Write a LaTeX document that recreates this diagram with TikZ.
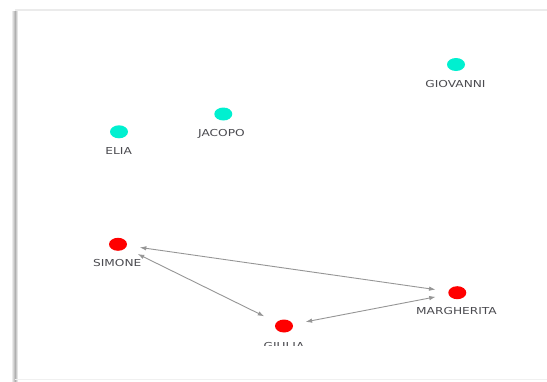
\documentclass[tikz,border=0pt]{standalone}
\usepackage{fontspec}
\setmainfont{DejaVu Sans}
\usetikzlibrary{arrows.meta,shapes.geometric}
\definecolor{dotcyan}{RGB}{0,240,208}
\definecolor{dotred}{RGB}{255,0,0}
\definecolor{edgegray}{RGB}{150,150,150}
\definecolor{labelgray}{RGB}{75,75,80}
\definecolor{framegray}{RGB}{175,175,175}
\tikzset{
  dotc/.style={ellipse,fill=dotcyan,minimum width=18pt,minimum height=13pt,inner sep=0pt},
  dotr/.style={ellipse,fill=dotred,minimum width=18pt,minimum height=13pt,inner sep=0pt},
  lbl/.style={inner sep=0pt,text height=7pt,text depth=0pt,font=\fontsize{9.6pt}{10pt}\selectfont,text=labelgray},
  link/.style={draw=edgegray,line width=0.9pt,{Latex[length=6.5pt,width=4.5pt]}-{Latex[length=6.5pt,width=4.5pt]},shorten <=22pt,shorten >=22pt}
}
\newcommand{\wlab}[1]{\scalebox{1.27}[1]{#1}}
\begin{document}
\begin{tikzpicture}[x=1pt,y=-1pt]
\useasboundingbox (0,0) rectangle (547,381);
\fill[white] (0,0) rectangle (547,381);
% frame
\shade[left color=white,right color=framegray] (11,11) rectangle (15,381);
\shade[left color=framegray,right color=white] (15,11) rectangle (18,381);
\fill[black!8] (15,9) rectangle (547,11);
\fill[black!6] (15,378.5) rectangle (547,379.5);
% nodes
\node[dotc] (giovanni) at (456,64.5) {};
\node[dotc] (jacopo) at (223.3,114) {};
\node[dotc] (elia) at (119,131.8) {};
\node[dotr] (simone) at (118,244.3) {};
\node[dotr] (giulia) at (284,326) {};
\node[dotr] (margherita) at (457.3,292.7) {};
% labels
\node[lbl] (lgiovanni) at (455.5,83.7) {\wlab{GIOVANNI}};
\node[lbl] (ljacopo) at (221.5,132.7) {\wlab{JACOPO}};
\node[lbl] (lelia) at (118.7,150.7) {\wlab{ELIA}};
\node[lbl] (lsimone) at (117.2,263.3) {\wlab{SIMONE}};
\node[lbl] (lmargherita) at (456.5,310.7) {\wlab{MARGHERITA}};
\begin{scope}
\clip (200,330) rectangle (370,345.2);
\node[lbl] (lgiulia) at (284,345.6) {\wlab{GIULIA}};
\end{scope}
% edges
\draw[link] (simone.center) -- (margherita.center);
\draw[link] (simone.center) -- (giulia.center);
\draw[link] (giulia.center) -- (margherita.center);
\end{tikzpicture}
\end{document}
